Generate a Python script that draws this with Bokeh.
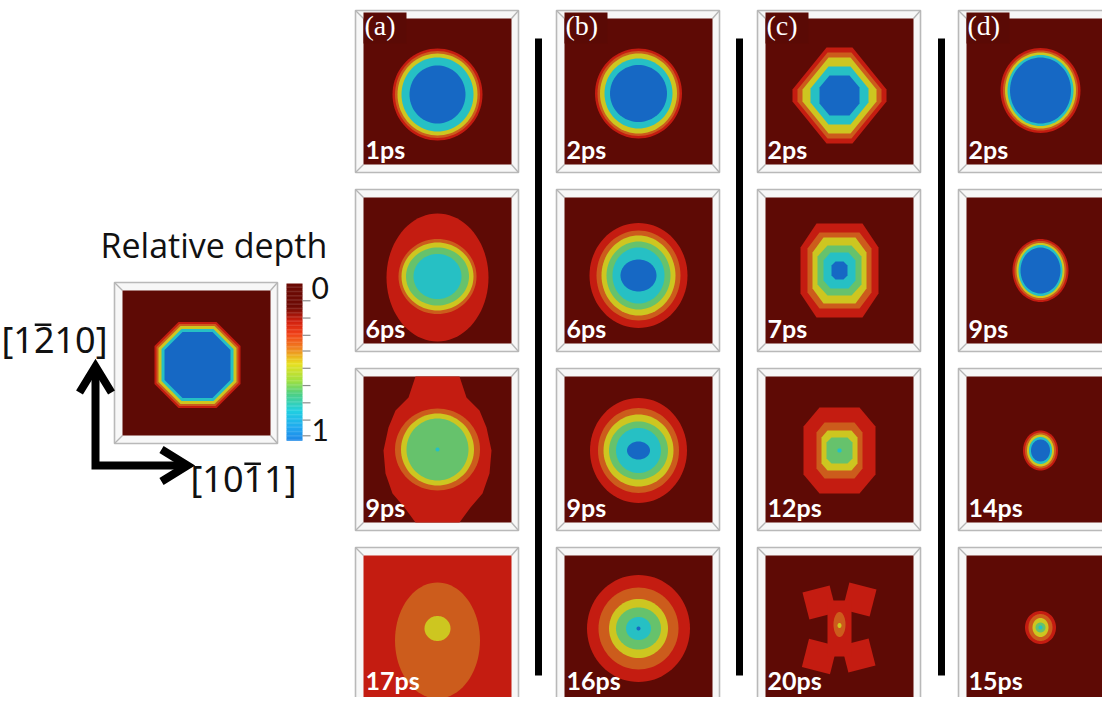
import numpy as np
from bokeh.plotting import figure
from bokeh.models import Range1d, ColumnDataSource
from bokeh.core.properties import value
from bokeh.embed import file_html
from bokeh.resources import INLINE

# ---------------------------------------------------------------- data
# colour of each discrete relative-depth level (0 = surface ... 7 = deepest)
level_colors = ["#5e0a05", "#c41c11", "#cc5c1c", "#cdc620", "#9bc94a",
                "#66c26c", "#26c0c4", "#1668c4"]

column_labels = ["(a)", "(b)", "(c)", "(d)"]
times_a = ["1ps", "6ps", "9ps", "17ps"]
times_b = ["2ps", "6ps", "9ps", "16ps"]
times_c = ["2ps", "7ps", "12ps", "20ps"]
times_d = ["2ps", "9ps", "14ps", "15ps"]
background_a = [0, 0, 0, 1]
background_b = [0, 0, 0, 0]
background_c = [0, 0, 0, 0]
background_d = [0, 0, 0, 0]

# elliptical contour rings: level, width, height (px), vertical offset
a1_level = [1, 2, 3, 6, 7]
a1_w = [90, 85, 80, 72, 56]
a1_h = [92, 87, 82, 74, 58]
a1_dy = [3, 3, 3, 3, 3]
a2_level = [1, 2, 3, 5, 6]
a2_w = [102, 78, 72, 63, 48]
a2_h = [128, 75, 68, 58, 45]
a2_dy = [7, 6, 6, 6, 6]
a3_level = [2, 3, 5, 6]
a3_w = [85, 73, 62, 4]
a3_h = [82, 72, 62, 4]
a3_dy = [0, 0, 0, 0]
a3_band_dy = [-73, -52, -39, -22, 1, 24, 44, 58, 73]
a3_band_hw = [22, 29, 42, 49, 54, 52, 45, 33, 22]
a4_level = [2, 3]
a4_w = [85, 26]
a4_h = [116, 25]
a4_dy = [12, 0]

b1_level = [1, 2, 3, 6, 7]
b1_w = [87, 82, 77, 68, 57]
b1_h = [90, 85, 80, 70, 57]
b1_dy = [2, 2, 2, 2, 2]
b2_level = [1, 2, 3, 5, 6, 7]
b2_w = [98, 84, 74, 64, 52, 36]
b2_h = [105, 90, 80, 68, 56, 32]
b2_dy = [5, 5, 5, 5, 5, 5]
b3_level = [1, 2, 3, 5, 6, 7]
b3_w = [97, 81, 70, 59, 45, 23]
b3_h = [105, 85, 72, 58, 45, 18]
b3_dy = [1, 1, 1, 1, 1, 1]
b4_level = [1, 2, 3, 5, 6, 7]
b4_w = [103, 80, 59, 45, 25, 4]
b4_h = [107, 82, 59, 42, 23, 4]
b4_dy = [0, 0, 0, 0, 0, 0]

d1_level = [1, 2, 3, 6, 7]
d1_w = [80, 75, 71, 66, 61]
d1_h = [85, 80, 76, 71, 66]
d1_dy = [-1, -1, -1, -1, -1]
d2_level = [1, 2, 3, 6, 7]
d2_w = [56, 52, 48, 44, 40]
d2_h = [63, 59, 55, 51, 46]
d2_dy = [0, 0, 0, 0, 0]
d3_level = [1, 2, 3, 6, 7]
d3_w = [35, 31, 27, 23, 19]
d3_h = [40, 36, 32, 27, 22]
d3_dy = [1, 1, 1, 1, 1]
d4_level = [1, 2, 3, 5, 6]
d4_w = [31, 24, 16, 10, 4]
d4_h = [33, 27, 19, 10, 4]
d4_dy = [-1, -1, -1, -1, -1]

# faceted (octagonal) contour rings: level, half-width, half-height,
# half-length of top facet, half-length of side facet
c1_level = [1, 2, 3, 6, 7]
c1_hw = [47, 42, 37, 29, 20]
c1_hh = [48, 43, 38, 29, 20]
c1_tf = [13, 12, 11, 11, 10]
c1_sf = [6, 6, 6, 7, 8]
c1_dy = 4
c2_level = [1, 2, 3, 5, 6, 7]
c2_hw = [39, 32, 27, 22, 16, 8]
c2_hh = [47, 38, 33, 25, 18, 9]
c2_tf = [23, 20, 16, 12, 9, 4]
c2_sf = [23, 22, 18, 14, 10, 5]
c2_dy = 0
c3_level = [1, 2, 3, 5, 6]
c3_hw = [36, 23, 18, 13, 2]
c3_hh = [43, 28, 20, 13, 2]
c3_tf = [20, 15, 12, 8, 1]
c3_sf = [24, 18, 13, 8, 1]
c3_dy = 1
# 20 ps: cross-shaped crater, four lobes + central body, then small rings
c4_lobe_dx = [-20, 20, -20, 19]
c4_lobe_dy = [-26, -29, 28, 27]
c4_lobe_size = [28, 28, 29, 28]
c4_lobe_angle = [-0.25, 0.25, 0.25, -0.25]
c4_body_w = 24
c4_body_h = 56
c4_level = [2, 3]
c4_w = [12, 4]
c4_h = [25, 5]
c4_dy = [-4, -3]

legend_level = [1, 2, 3, 6, 7]
legend_hw = [43, 41, 39, 36, 33]
legend_hh = [43, 41, 39, 36, 33]
legend_tf = [19, 18, 17, 16, 15]
legend_sf = [19, 18, 17, 16, 15]

cbar_pos = [0.0, 0.15, 0.24, 0.32, 0.41, 0.51, 0.62, 0.70, 0.81, 0.92, 1.0]
cbar_hex = ["#6a0a04", "#6e0a04", "#d0200e", "#f04018", "#f08020", "#e8e020",
            "#a0e040", "#50d080", "#20d0e0", "#20a8f0", "#1e88e8"]
cbar_labels = ["0", "1"]
cbar_ticks = [0.11, 0.22, 0.33, 0.43, 0.54, 0.65, 0.76, 0.87, 0.97]
title_text = "Relative depth"
dir_labels = ["[1210]", "[1011]"]
dir_overbar_char = [2, 3]   # position (in characters) of the barred index

# ---------------------------------------------------------------- layout
COL_X0 = [355, 556, 757, 958]
ROW_Y0 = [10, 189, 368, 547]
FW, FH = 163, 162
IL, IT, IR, IB = 8, 8, 7, 8
LEG_X0, LEG_Y0, LEG_W, LEG_H = 114, 282, 163, 161
BASE_SHIFT = 0.42   # renderer places 'alphabetic' text ~0.42 em lower

p = figure(width=1102, height=697, x_range=Range1d(0, 1102), y_range=Range1d(697, 0),
           x_axis_location=None, y_axis_location=None, toolbar_location=None,
           output_backend="svg", min_border=0, outline_line_color=None,
           background_fill_color="white", border_fill_color="white")
p.grid.visible = False

frames = []
for c in range(4):
    for r in range(4):
        frames.append((COL_X0[c], ROW_Y0[r], FW, FH))
frames.append((LEG_X0, LEG_Y0, LEG_W, LEG_H))

fl = [f[0] for f in frames]
fr = [f[0] + f[2] for f in frames]
ft = [f[1] for f in frames]
fb = [f[1] + f[3] for f in frames]
p.quad(left=fl, right=fr, top=ft, bottom=fb, fill_color="#f7f7f7",
       line_color="#b9b9b9", line_width=1.6)
sx0, sy0, sx1, sy1 = [], [], [], []
for (x0, y0, w, h) in frames:
    ox = [x0, x0 + w, x0 + w, x0]
    oy = [y0, y0, y0 + h, y0 + h]
    ix = [x0 + IL, x0 + w - IR, x0 + w - IR, x0 + IL]
    iy = [y0 + IT, y0 + IT, y0 + h - IB, y0 + h - IB]
    for k in range(4):
        sx0.append(ox[k]); sy0.append(oy[k]); sx1.append(ix[k]); sy1.append(iy[k])
p.segment(x0=sx0, y0=sy0, x1=sx1, y1=sy1, line_color="#b5b5b5", line_width=1.3)

P_xs, P_ys, P_col = [], [], []


def add_poly(xs, ys, level):
    P_xs.append(list(xs)); P_ys.append(list(ys)); P_col.append(level_colors[level])


def inner_box(x0, y0, w, h):
    return x0 + IL, y0 + IT, x0 + w - IR, y0 + h - IB


def ellipse_poly(cx, cy, w, h, n=80):
    t = np.linspace(0, 2 * np.pi, n, endpoint=False)
    return cx + w / 2 * np.cos(t), cy + h / 2 * np.sin(t)


def octagon_poly(cx, cy, hw, hh, tf, sf):
    xs = [cx - tf, cx + tf, cx + hw, cx + hw, cx + tf, cx - tf, cx - hw, cx - hw]
    ys = [cy - hh, cy - hh, cy - sf, cy + sf, cy + hh, cy + hh, cy + sf, cy - sf]
    return xs, ys


def rot_square(cx, cy, s, ang):
    pts = [(-s / 2, -s / 2), (s / 2, -s / 2), (s / 2, s / 2), (-s / 2, s / 2)]
    ca, sa = np.cos(ang), np.sin(ang)
    return ([cx + a * ca - b * sa for a, b in pts], [cy + a * sa + b * ca for a, b in pts])


backgrounds = [background_a, background_b, background_c, background_d]
for c in range(4):
    for r in range(4):
        l, t, rr, b = inner_box(COL_X0[c], ROW_Y0[r], FW, FH)
        add_poly([l, rr, rr, l], [t, t, b, b], backgrounds[c][r])
ll, lt, lr, lb = inner_box(LEG_X0, LEG_Y0, LEG_W, LEG_H)
add_poly([ll, lr, lr, ll], [lt, lt, lb, lb], 0)


def center(c, r):
    l, t, rr, b = inner_box(COL_X0[c], ROW_Y0[r], FW, FH)
    return (l + rr) / 2, (t + b) / 2


def add_ellipses(c, r, levels, ws, hs, dys):
    cx, cy = center(c, r)
    for lv, w, h, dy in zip(levels, ws, hs, dys):
        add_poly(*ellipse_poly(cx, cy + dy, w, h), lv)


def add_octagons(cx, cy, levels, hws, hhs, tfs, sfs):
    for lv, hw, hh, tf, sf in zip(levels, hws, hhs, tfs, sfs):
        add_poly(*octagon_poly(cx, cy, hw, hh, tf, sf), lv)


# column (a)
add_ellipses(0, 0, a1_level, a1_w, a1_h, a1_dy)
add_ellipses(0, 1, a2_level, a2_w, a2_h, a2_dy)
cx, cy = center(0, 2)
bx = [cx - w for w in a3_band_hw] + [cx + w for w in a3_band_hw[::-1]]
by = [cy + d for d in a3_band_dy] + [cy + d for d in a3_band_dy[::-1]]
add_poly(bx, by, 1)
add_ellipses(0, 2, a3_level, a3_w, a3_h, a3_dy)
add_ellipses(0, 3, a4_level, a4_w, a4_h, a4_dy)
# column (b)
add_ellipses(1, 0, b1_level, b1_w, b1_h, b1_dy)
add_ellipses(1, 1, b2_level, b2_w, b2_h, b2_dy)
add_ellipses(1, 2, b3_level, b3_w, b3_h, b3_dy)
add_ellipses(1, 3, b4_level, b4_w, b4_h, b4_dy)
# column (c)
cx, cy = center(2, 0)
add_octagons(cx, cy + c1_dy, c1_level, c1_hw, c1_hh, c1_tf, c1_sf)
cx, cy = center(2, 1)
add_octagons(cx, cy + c2_dy, c2_level, c2_hw, c2_hh, c2_tf, c2_sf)
cx, cy = center(2, 2)
add_octagons(cx, cy + c3_dy, c3_level, c3_hw, c3_hh, c3_tf, c3_sf)
cx, cy = center(2, 3)
for dx, dy, s, a in zip(c4_lobe_dx, c4_lobe_dy, c4_lobe_size, c4_lobe_angle):
    add_poly(*rot_square(cx + dx, cy + dy, s, a), 1)
add_poly([cx - c4_body_w / 2, cx + c4_body_w / 2, cx + c4_body_w / 2, cx - c4_body_w / 2],
         [cy - c4_body_h / 2, cy - c4_body_h / 2, cy + c4_body_h / 2, cy + c4_body_h / 2], 1)
add_ellipses(2, 3, c4_level, c4_w, c4_h, c4_dy)
# column (d)
add_ellipses(3, 0, d1_level, d1_w, d1_h, d1_dy)
add_ellipses(3, 1, d2_level, d2_w, d2_h, d2_dy)
add_ellipses(3, 2, d3_level, d3_w, d3_h, d3_dy)
add_ellipses(3, 3, d4_level, d4_w, d4_h, d4_dy)
# legend crater
add_octagons((ll + lr) / 2 + 1, (lt + lb) / 2 + 2, legend_level, legend_hw, legend_hh,
             legend_tf, legend_sf)

p.patches(xs="xs", ys="ys", fill_color="col", line_color=None,
          source=ColumnDataSource(dict(xs=P_xs, ys=P_ys, col=P_col)))


def text(xs, ys_baseline, texts, font, size, color="#111111", style="normal"):
    p.text(x=xs, y=[y - BASE_SHIFT * size for y in ys_baseline], text=texts,
           text_font=value(font), text_font_size="%dpx" % size, text_color=color,
           text_font_style=style, text_baseline="alphabetic", text_align="left")


# column labels (a)-(d) on a dark patch
lab_l = [x + 8 for x in COL_X0]
p.quad(left=lab_l, right=[x + 43 for x in lab_l], top=[ROW_Y0[0] + 2] * 4,
       bottom=[ROW_Y0[0] + 33] * 4, fill_color="#5a0a05", line_color=None)
text([x + 1 for x in lab_l], [ROW_Y0[0] + 27] * 4, column_labels, "Liberation Serif", 28,
     color="white")

# time labels (bottom row kept clear of the page edge)
tx, ty, tt = [], [], []
for c, times in enumerate([times_a, times_b, times_c, times_d]):
    for r in range(4):
        tx.append(COL_X0[c] + IL + 2)
        ty.append(ROW_Y0[r] + (149 if r < 3 else 143))
        tt.append(times[r])
text(tx, ty, tt, "Lato", 25, color="white", style="bold")

# separators
sep_x = [538, 739, 941]
p.segment(x0=sep_x, y0=[38] * 3, x1=sep_x, y1=[675] * 3, line_color="black", line_width=7)

# colour bar
CB_L, CB_R, CB_T, CB_B = 286, 302, 283, 440
n = 120
f = (np.arange(n) + 0.5) / n
rgb = np.array([[int(h[i:i + 2], 16) for i in (1, 3, 5)] for h in cbar_hex], dtype=float)
cols = ["#%02x%02x%02x" % tuple(int(round(np.interp(v, cbar_pos, rgb[:, k]))) for k in range(3))
        for v in f]
edges = CB_T + (CB_B - CB_T) * np.arange(n + 1) / n
p.quad(left=[CB_L] * n, right=[CB_R] * n, top=list(edges[:-1]), bottom=list(edges[1:] + 0.3),
       fill_color=cols, line_color=None)
tk_y = [CB_T + (CB_B - CB_T) * v for v in cbar_ticks]
p.segment(x0=[CB_R] * len(tk_y), y0=tk_y, x1=[CB_R + 8] * len(tk_y), y1=tk_y,
          line_color="#8c8c8c", line_width=1.2)
text([311, 311], [300, 442], cbar_labels, "Lato", 30)

text([100], [259], [title_text], "Open Sans", 34)

# crystal direction labels with an overbar on one index
DIR_SIZE = 36
dir_x = [1, 190]
dir_base = [354, 493]
text(dir_x, dir_base, dir_labels, "Noto Sans", DIR_SIZE)
bracket_w, digit_w = 0.296 * DIR_SIZE, 0.572 * DIR_SIZE
ob_x0 = [x + bracket_w + (k - 1) * digit_w + 2 for x, k in zip(dir_x, dir_overbar_char)]
ob_y = [b - 0.714 * DIR_SIZE - 4 for b in dir_base]
p.segment(x0=ob_x0, y0=ob_y, x1=[x + digit_w - 4 for x in ob_x0], y1=ob_y,
          line_color="#111111", line_width=2.5)

# axis arrows
p.line(x=[95, 95, 186], y=[367, 465, 465], line_color="black", line_width=8,
       line_join="miter")
p.line(x=[79, 95, 111], y=[392, 366, 392], line_color="black", line_width=8,
       line_join="miter")
p.line(x=[161, 187, 161], y=[449, 465, 481], line_color="black", line_width=8,
       line_join="miter")

open("out.html", "w").write(file_html(p, INLINE))
